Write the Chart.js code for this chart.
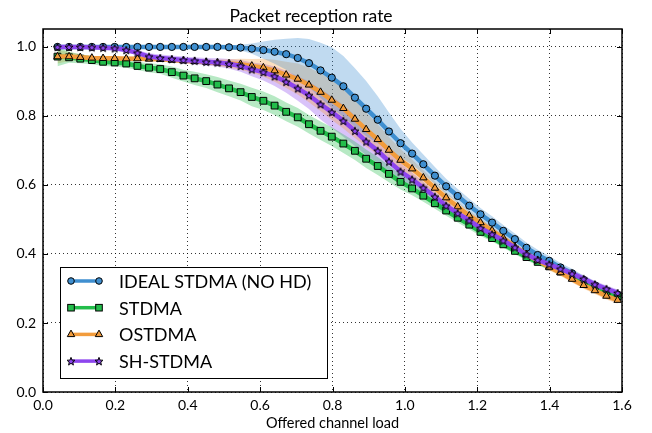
<!DOCTYPE html>
<html>
<head>
<meta charset="utf-8">
<script src="https://cdn.jsdelivr.net/npm/chart.js@4.4.1/dist/chart.umd.min.js"></script>
<style>
  body { margin: 0; background: #fff; }
  #wrap { width: 652px; height: 433px; }
</style>
</head>
<body>
<div id="wrap"><canvas id="prrChart" width="652" height="433"></canvas></div>
<script>
// offered channel load (x positions of the markers)
const loads = [0.040, 0.072, 0.103, 0.135, 0.166, 0.198, 0.230, 0.261, 0.293, 0.324,
  0.356, 0.388, 0.419, 0.451, 0.482, 0.514, 0.546, 0.577, 0.609, 0.640,
  0.672, 0.704, 0.735, 0.767, 0.798, 0.830, 0.862, 0.893, 0.925, 0.956,
  0.988, 1.020, 1.051, 1.083, 1.114, 1.146, 1.178, 1.209, 1.241, 1.272,
  1.304, 1.336, 1.367, 1.399, 1.430, 1.462, 1.494, 1.525, 1.557, 1.588];

const seriesNames = ['IDEAL STDMA (NO HD)', 'STDMA', 'OSTDMA', 'SH-STDMA'];

const idealPrr = [1.000, 1.000, 1.000, 1.000, 1.000, 1.000, 1.000, 1.000, 1.000, 1.000,
  1.000, 1.000, 1.000, 1.000, 1.000, 0.999, 0.998, 0.995, 0.991, 0.986,
  0.979, 0.968, 0.953, 0.932, 0.911, 0.886, 0.853, 0.821, 0.789, 0.755,
  0.721, 0.691, 0.660, 0.627, 0.596, 0.568, 0.540, 0.515, 0.491, 0.467,
  0.443, 0.418, 0.397, 0.380, 0.361, 0.344, 0.325, 0.309, 0.294, 0.282];
const stdmaPrr = [0.972, 0.970, 0.966, 0.962, 0.957, 0.955, 0.952, 0.945, 0.940, 0.936,
  0.927, 0.917, 0.909, 0.901, 0.891, 0.880, 0.869, 0.855, 0.844, 0.830,
  0.812, 0.796, 0.776, 0.757, 0.740, 0.720, 0.699, 0.676, 0.655, 0.632,
  0.609, 0.590, 0.569, 0.547, 0.526, 0.505, 0.485, 0.464, 0.446, 0.428,
  0.409, 0.391, 0.377, 0.364, 0.349, 0.333, 0.318, 0.303, 0.290, 0.278];
const ostdmaPrr = [0.972, 0.972, 0.970, 0.968, 0.967, 0.967, 0.966, 0.966, 0.965, 0.964,
  0.962, 0.960, 0.958, 0.956, 0.954, 0.952, 0.950, 0.945, 0.940, 0.931,
  0.919, 0.907, 0.890, 0.869, 0.846, 0.822, 0.791, 0.761, 0.732, 0.701,
  0.672, 0.647, 0.621, 0.591, 0.563, 0.537, 0.511, 0.491, 0.468, 0.446,
  0.421, 0.399, 0.381, 0.362, 0.346, 0.327, 0.309, 0.294, 0.278, 0.266];
const shStdmaPrr = [1.000, 1.000, 1.000, 0.999, 0.998, 0.996, 0.991, 0.983, 0.972, 0.968,
  0.965, 0.962, 0.960, 0.957, 0.955, 0.951, 0.945, 0.935, 0.927, 0.915,
  0.899, 0.880, 0.860, 0.834, 0.811, 0.786, 0.757, 0.726, 0.699, 0.668,
  0.639, 0.616, 0.592, 0.566, 0.540, 0.518, 0.497, 0.475, 0.457, 0.439,
  0.419, 0.399, 0.383, 0.370, 0.357, 0.343, 0.328, 0.312, 0.299, 0.287];

// half width of the shaded spread around each curve
const idealSpread = [0.003, 0.003, 0.003, 0.003, 0.003, 0.003, 0.003, 0.003, 0.003, 0.003,
  0.003, 0.003, 0.003, 0.004, 0.005, 0.006, 0.008, 0.015, 0.025, 0.035,
  0.045, 0.058, 0.070, 0.080, 0.088, 0.088, 0.085, 0.080, 0.068, 0.055,
  0.042, 0.032, 0.028, 0.025, 0.022, 0.020, 0.020, 0.018, 0.018, 0.017,
  0.016, 0.015, 0.015, 0.014, 0.013, 0.013, 0.012, 0.012, 0.012, 0.012];
const stdmaSpread = [0.028, 0.016, 0.013, 0.012, 0.012, 0.012, 0.012, 0.012, 0.013, 0.014,
  0.016, 0.017, 0.019, 0.020, 0.022, 0.023, 0.024, 0.027, 0.027, 0.027,
  0.027, 0.027, 0.027, 0.027, 0.027, 0.027, 0.027, 0.027, 0.026, 0.024,
  0.022, 0.020, 0.018, 0.016, 0.015, 0.014, 0.013, 0.012, 0.010, 0.010,
  0.010, 0.010, 0.010, 0.010, 0.010, 0.010, 0.010, 0.010, 0.010, 0.010];
const ostdmaSpread = [0.020, 0.013, 0.009, 0.006, 0.006, 0.006, 0.006, 0.006, 0.006, 0.006,
  0.006, 0.006, 0.006, 0.007, 0.009, 0.012, 0.016, 0.020, 0.026, 0.032,
  0.038, 0.045, 0.050, 0.055, 0.058, 0.058, 0.055, 0.050, 0.044, 0.038,
  0.032, 0.027, 0.022, 0.019, 0.016, 0.014, 0.013, 0.012, 0.010, 0.010,
  0.010, 0.010, 0.010, 0.010, 0.010, 0.010, 0.010, 0.010, 0.010, 0.010];
const shStdmaSpread = [0.004, 0.004, 0.004, 0.004, 0.004, 0.004, 0.006, 0.008, 0.010, 0.010,
  0.010, 0.010, 0.010, 0.011, 0.012, 0.014, 0.017, 0.020, 0.024, 0.028,
  0.032, 0.036, 0.040, 0.044, 0.046, 0.046, 0.044, 0.040, 0.035, 0.030,
  0.025, 0.020, 0.017, 0.015, 0.013, 0.012, 0.010, 0.010, 0.010, 0.010,
  0.010, 0.010, 0.010, 0.010, 0.010, 0.010, 0.010, 0.010, 0.010, 0.010];

const xTicks = [0.0, 0.2, 0.4, 0.6, 0.8, 1.0, 1.2, 1.4, 1.6];
const yTicks = [0.0, 0.2, 0.4, 0.6, 0.8, 1.0];

const FONT = 'Lato, "Open Sans", sans-serif';

// star marker (matplotlib '*')
function makeStar(fill, r) {
    const c = document.createElement('canvas');
    const s = Math.ceil(r * 2 + 3);
    c.width = s; c.height = s;
    const g = c.getContext('2d');
    g.translate(s / 2, s / 2 + 0.5);
    g.beginPath();
    for (let i = 0; i < 10; i++) {
        const rad = i % 2 === 0 ? r : r * 0.42;
        const a = -Math.PI / 2 + i * Math.PI / 5;
        g.lineTo(rad * Math.cos(a), rad * Math.sin(a));
    }
    g.closePath();
    g.fillStyle = fill;
    g.fill();
    g.lineWidth = 1;
    g.strokeStyle = '#000';
    g.stroke();
    return c;
}

const series = [
    { name: seriesNames[0], y: idealPrr, spread: idealSpread, color: '#3f8fd0', rgb: '63,143,208', style: 'circle', radius: 3.6, order: 4 },
    { name: seriesNames[1], y: stdmaPrr, spread: stdmaSpread, color: '#23bd4b', rgb: '35,189,75', style: 'rect', radius: 4.8, order: 3 },
    { name: seriesNames[2], y: ostdmaPrr, spread: ostdmaSpread, color: '#f29c3c', rgb: '242,156,60', style: 'triangle', radius: 4.3, order: 2 },
    { name: seriesNames[3], y: shStdmaPrr, spread: shStdmaSpread, color: '#8d45ee', rgb: '141,69,238', style: null, radius: 4.2, order: 1 }
];
series[3].style = makeStar(series[3].color, 4.2);

const datasets = [];
series.forEach((s, idx) => {
    datasets.push({
        label: s.name,
        data: loads.map((x, i) => ({ x: x, y: s.y[i] })),
        borderColor: s.color,
        borderWidth: 4.5,
        pointStyle: s.style,
        pointRadius: s.radius,
        pointBackgroundColor: s.color,
        pointBorderColor: '#000',
        pointBorderWidth: 1,
        fill: false,
        tension: 0,
        order: s.order
    });
});
series.forEach((s, idx) => {
    datasets.push({
        label: s.name + ' hi',
        data: loads.map((x, i) => ({ x: x, y: s.y[i] + s.spread[i] })),
        borderWidth: 0,
        pointRadius: 0,
        fill: false,
        order: 20 + idx * 2
    });
    datasets.push({
        label: s.name + ' lo',
        data: loads.map((x, i) => ({ x: x, y: s.y[i] - s.spread[i] })),
        borderWidth: 0,
        pointRadius: 0,
        fill: '-1',
        backgroundColor: 'rgba(' + s.rgb + ',0.33)',
        order: 21 + idx * 2
    });
});

// frame, inward ticks and legend box, like the original figure
const framePlugin = {
    id: 'frame',
    afterDatasetsDraw(chart) {
        const { ctx, chartArea: a, scales } = chart;
        ctx.save();
        ctx.strokeStyle = '#000';
        ctx.lineWidth = 1;
        ctx.beginPath();
        xTicks.forEach(v => {
            const px = Math.round(scales.x.getPixelForValue(v)) + 0.5;
            ctx.moveTo(px, a.bottom); ctx.lineTo(px, a.bottom - 5);
            ctx.moveTo(px, a.top); ctx.lineTo(px, a.top + 5);
        });
        yTicks.forEach(v => {
            const py = Math.round(scales.y.getPixelForValue(v)) + 0.5;
            ctx.moveTo(a.left, py); ctx.lineTo(a.left + 5, py);
            ctx.moveTo(a.right, py); ctx.lineTo(a.right - 5, py);
        });
        ctx.stroke();
        ctx.lineWidth = 1.5;
        ctx.strokeRect(a.left, a.top, a.right - a.left, a.bottom - a.top);
        ctx.restore();
    },
    afterDraw(chart) {
        const ctx = chart.ctx;
        const box = { x: 60, y: 267, w: 267, h: 111 };
        ctx.save();
        ctx.fillStyle = '#fff';
        ctx.fillRect(box.x, box.y, box.w, box.h);
        ctx.strokeStyle = '#000';
        ctx.lineWidth = 1;
        ctx.strokeRect(box.x + 0.5, box.y + 0.5, box.w, box.h);
        series.forEach((s, i) => {
            const yy = 281 + i * 26.7;
            ctx.strokeStyle = s.color;
            ctx.lineWidth = 3.5;
            ctx.beginPath();
            ctx.moveTo(71, yy); ctx.lineTo(99, yy);
            ctx.stroke();
            [71, 99].forEach(xx => drawMarker(ctx, s, xx, yy));
            ctx.fillStyle = '#000';
            ctx.font = '18px ' + FONT;
            ctx.textBaseline = 'middle';
            ctx.textAlign = 'left';
            ctx.fillText(s.name, 119, yy + 1);
        });
        ctx.restore();
    }
};

function drawMarker(ctx, s, x, y) {
    ctx.save();
    ctx.fillStyle = s.color;
    ctx.strokeStyle = '#000';
    ctx.lineWidth = 1;
    if (s.style === 'circle') {
        ctx.beginPath();
        ctx.arc(x, y, 3.3, 0, Math.PI * 2);
        ctx.fill(); ctx.stroke();
    } else if (s.style === 'rect') {
        ctx.fillRect(x - 3.3, y - 3.3, 6.6, 6.6);
        ctx.strokeRect(x - 3.3, y - 3.3, 6.6, 6.6);
    } else if (s.style === 'triangle') {
        ctx.beginPath();
        ctx.moveTo(x, y - 4.3);
        ctx.lineTo(x + 3.7, y + 2.2);
        ctx.lineTo(x - 3.7, y + 2.2);
        ctx.closePath();
        ctx.fill(); ctx.stroke();
    } else {
        ctx.drawImage(s.style, x - s.style.width / 2, y - s.style.height / 2);
    }
    ctx.restore();
}

new Chart(document.getElementById('prrChart'), {
    type: 'line',
    data: { datasets: datasets },
    options: {
        responsive: false,
        animation: false,
        events: [],
        layout: { padding: { left: 0, right: 30, top: 0, bottom: 0 } },
        plugins: {
            legend: { display: false },
            tooltip: { enabled: false },
            title: {
                display: true,
                text: 'Packet reception rate',
                color: '#000',
                font: { family: FONT, size: 17.5, weight: 'normal' },
                padding: { top: 6, bottom: 2 }
            }
        },
        scales: {
            x: {
                type: 'linear',
                min: 0,
                max: 1.6,
                afterFit: s => { s.height = 41; },
                afterBuildTicks: s => { s.ticks = xTicks.map(v => ({ value: v })); },
                ticks: {
                    color: '#000',
                    padding: 5,
                    maxRotation: 0,
                    font: { family: FONT, size: 14 },
                    callback: v => v.toFixed(1)
                },
                grid: { color: '#000', lineWidth: 0.8, drawTicks: false },
                border: { display: false, dash: [1, 3] },
                title: {
                    display: true,
                    text: 'Offered channel load',
                    color: '#000',
                    font: { family: FONT, size: 14.5 },
                    padding: { top: 2, bottom: 1 }
                }
            },
            y: {
                type: 'linear',
                min: 0,
                max: 1.052,
                afterFit: s => { s.width = 43; },
                afterBuildTicks: s => { s.ticks = yTicks.map(v => ({ value: v })); },
                ticks: {
                    color: '#000',
                    padding: 7,
                    font: { family: FONT, size: 14 },
                    callback: v => v.toFixed(1)
                },
                grid: { color: '#000', lineWidth: 0.8, drawTicks: false },
                border: { display: false, dash: [1, 3] }
            }
        }
    },
    plugins: [framePlugin]
});
</script>
</body>
</html>
